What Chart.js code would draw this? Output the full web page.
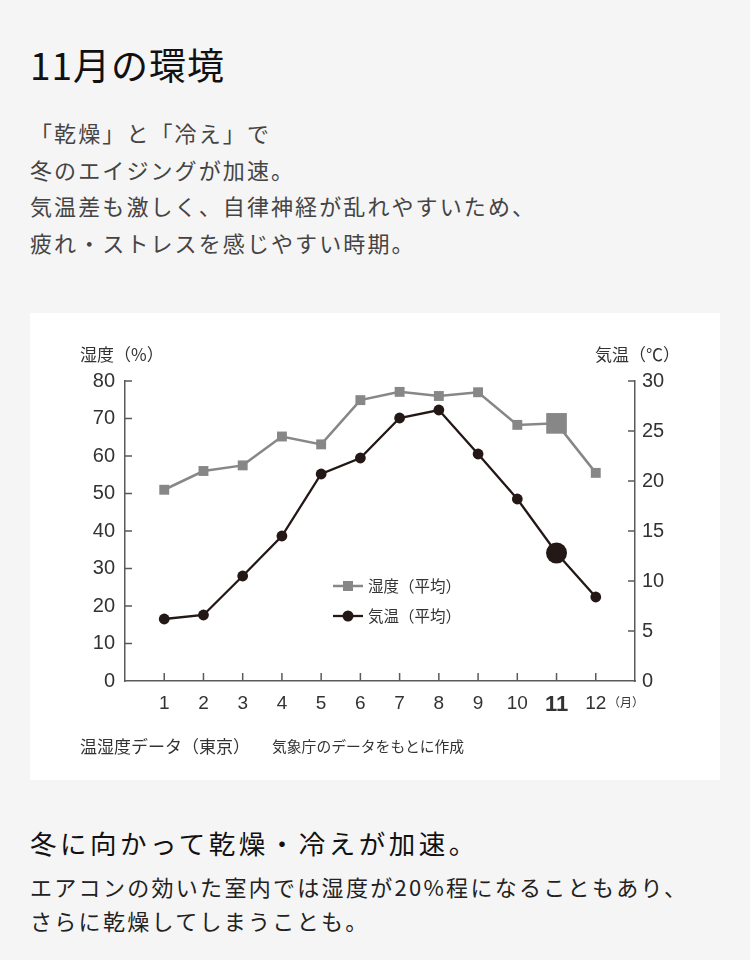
<!DOCTYPE html>
<html lang="ja">
<head>
<meta charset="utf-8">
<script src="https://cdn.jsdelivr.net/npm/chart.js@4"></script>
<style>
  body { margin: 0; background: #f5f5f5; font-family: "Noto Sans CJK JP", "Noto Sans", sans-serif; }
  #page { position: relative; width: 750px; height: 960px; overflow: hidden; }
  .t { position: absolute; left: 30px; white-space: nowrap; }
  #title { top: 39px; font-size: 37px; letter-spacing: 1px; color: #111; line-height: 50px; }
  #lead { top: 114px; font-size: 22px; letter-spacing: 2.1px; color: #444; line-height: 36.5px; }
  #box { position: absolute; left: 30px; top: 313px; width: 690px; height: 467px; background: #fff; }
  #box canvas { position: absolute; left: 0; top: 0; }
  .cap { position: absolute; top: 420px; color: #333; white-space: nowrap; }
  #h2 { top: 823px; font-size: 26.5px; letter-spacing: 3.5px; color: #111; line-height: 40px; }
  #body { top: 869px; font-size: 22px; letter-spacing: 2.3px; color: #222; line-height: 34px; }
</style>
</head>
<body>
<div id="page">
  <div class="t" id="title">11月の環境</div>
  <div class="t" id="lead">「乾燥」と「冷え」で<br>冬のエイジングが加速。<br>気温差も激しく、自律神経が乱れやすいため、<br>疲れ・ストレスを感じやすい時期。</div>
  <div id="box">
    <canvas id="myChart" width="690" height="467"></canvas>
    <div class="cap" style="left:50px; font-size:17px;">温湿度データ（東京）</div>
    <div class="cap" style="left:242px; top:422px; font-size:14.8px;">気象庁のデータをもとに作成</div>
  </div>
  <div class="t" id="h2">冬に向かって乾燥・冷えが加速。</div>
  <div class="t" id="body">エアコンの効いた室内では湿度が20%程になることもあり、<br>さらに乾燥してしまうことも。</div>
</div>
<script>
  // monthly averages, Tokyo
  const months = [1, 2, 3, 4, 5, 6, 7, 8, 9, 10, 11, 12];
  const humidity = [51, 56, 57.5, 65.2, 63.1, 74.9, 77.1, 76, 77, 68.3, 68.7, 55.5];
  const temperature = [6.2, 6.6, 10.5, 14.5, 20.7, 22.3, 26.3, 27.1, 22.7, 18.2, 12.8, 8.4];
  const highlightMonth = 11;
  const seriesLabels = ['湿度（平均）', '気温（平均）'];

  const grey = '#878787';
  const dark = '#231815';
  const axisColor = '#5a5a5a';
  const numFont = '"Liberation Sans", Arial, sans-serif';
  const jpFont = '"Noto Sans CJK JP", sans-serif';

  // inner tick marks + axis titles + legend
  const decor = {
    id: 'decor',
    afterDraw(chart) {
      const { ctx, chartArea: a, scales } = chart;
      ctx.save();
      ctx.strokeStyle = axisColor;
      ctx.lineWidth = 1.5;
      ctx.beginPath();
      scales.y.ticks.forEach(t => {
        if (t.value === 0) return;
        const py = scales.y.getPixelForValue(t.value);
        ctx.moveTo(a.left, py); ctx.lineTo(a.left + 7, py);
      });
      scales.y1.ticks.forEach(t => {
        if (t.value === 0) return;
        const py = scales.y1.getPixelForValue(t.value);
        ctx.moveTo(a.right, py); ctx.lineTo(a.right - 7, py);
      });
      months.forEach(m => {
        const px = scales.x.getPixelForValue(m);
        ctx.moveTo(px, a.bottom); ctx.lineTo(px, a.bottom - 8);
      });
      ctx.stroke();

      ctx.fillStyle = '#333';
      ctx.textBaseline = 'middle';
      ctx.textAlign = 'left';
      ctx.font = '17px ' + jpFont;
      ctx.fillText('湿度（%）', 50, 42);
      ctx.fillText('気温（℃）', 565, 42);
      ctx.font = '12px ' + jpFont;
      ctx.fillText('（月）', 578, 389);

      // legend
      const lx = 303, rows = [273, 303];
      chart.data.datasets.forEach((ds, i) => {
        const y = rows[i];
        ctx.strokeStyle = ds.borderColor;
        ctx.lineWidth = ds.borderWidth;
        ctx.beginPath(); ctx.moveTo(lx, y); ctx.lineTo(lx + 30, y); ctx.stroke();
        ctx.fillStyle = ds.borderColor;
        if (ds.pointStyle === 'rect') {
          ctx.fillRect(lx + 10, y - 5, 10, 10);
        } else {
          ctx.beginPath(); ctx.arc(lx + 15, y, 5.5, 0, Math.PI * 2); ctx.fill();
        }
        ctx.fillStyle = '#333';
        ctx.font = '15.5px ' + jpFont;
        ctx.fillText(ds.label, lx + 35, y);
      });
      ctx.restore();
    }
  };

  const ctx = document.getElementById('myChart').getContext('2d');
  new Chart(ctx, {
    type: 'line',
    data: {
      datasets: [
        {
          label: seriesLabels[0],
          data: months.map((m, i) => ({ x: m, y: humidity[i] })),
          yAxisID: 'y',
          borderColor: grey,
          backgroundColor: grey,
          borderWidth: 2.5,
          pointStyle: 'rect',
          pointBorderWidth: 0,
          pointRadius: months.map(m => m === highlightMonth ? 14.6 : 7)
        },
        {
          label: seriesLabels[1],
          data: months.map((m, i) => ({ x: m, y: temperature[i] })),
          yAxisID: 'y1',
          borderColor: dark,
          backgroundColor: dark,
          borderWidth: 2.3,
          pointStyle: 'circle',
          pointBorderWidth: 0,
          pointRadius: months.map(m => m === highlightMonth ? 10.5 : 5.4)
        }
      ]
    },
    options: {
      responsive: false,
      animation: false,
      layout: { padding: { left: 10, top: 68, right: 0, bottom: 0 } },
      scales: {
        x: {
          type: 'linear',
          min: 0,
          max: 13,
          afterFit: s => { s.height = 99; },
          afterBuildTicks: s => { s.ticks = months.map(m => ({ value: m })); },
          grid: { drawOnChartArea: false, drawTicks: false },
          border: { display: true, color: axisColor, width: 1.5 },
          ticks: {
            padding: 11,
            color: '#333',
            maxRotation: 0,
            autoSkip: false,
            font: c => c.tick && c.tick.value === highlightMonth
              ? { family: numFont, size: 22, weight: 'bold' }
              : { family: numFont, size: 19 }
          }
        },
        y: {
          position: 'left',
          min: 0,
          max: 80,
          afterFit: s => { s.width = 85; },
          grid: { drawOnChartArea: false, drawTicks: false },
          border: { display: true, color: axisColor, width: 1.5 },
          ticks: { stepSize: 10, padding: 10, color: '#333', font: { family: numFont, size: 20 } }
        },
        y1: {
          position: 'right',
          min: 0,
          max: 30,
          afterFit: s => { s.width = 85; },
          grid: { drawOnChartArea: false, drawTicks: false },
          border: { display: true, color: axisColor, width: 1.5 },
          ticks: { stepSize: 5, padding: 7, color: '#333', font: { family: numFont, size: 20 } }
        }
      },
      plugins: {
        legend: { display: false },
        tooltip: { enabled: false }
      }
    },
    plugins: [decor]
  });
</script>
</body>
</html>
